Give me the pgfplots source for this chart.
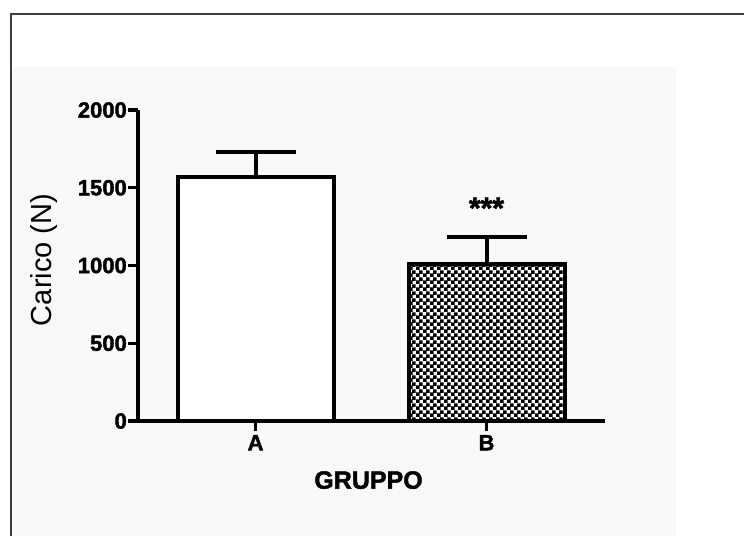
\documentclass[border=0pt]{standalone}
\usepackage{pgfplots}
\pgfplotsset{compat=1.18}
\usepackage{fontspec}
\setmainfont{Liberation Sans}
\newfontfamily\hv[FakeBold=1.8]{Liberation Sans Bold}
\usetikzlibrary{patterns}
\pgfdeclarepatternformonly{mycheck}{\pgfpointorigin}{\pgfqpoint{6.6pt}{6.6pt}}{\pgfqpoint{6.6pt}{6.6pt}}{%
  \pgfpathrectangle{\pgfpointorigin}{\pgfqpoint{3.8pt}{3.8pt}}%
  \pgfpathrectangle{\pgfqpoint{3.3pt}{3.3pt}}{\pgfqpoint{3.8pt}{3.8pt}}%
  \pgfusepath{fill}}
\definecolor{bgc}{RGB}{248,248,248}
\definecolor{framec}{RGB}{60,60,60}
\begin{document}
\begin{tikzpicture}
\useasboundingbox (0,0) rectangle (744pt,536pt);
\fill[white] (0,0) rectangle (744pt,536pt);
\fill[bgc] (11pt,0) rectangle (676pt,469pt);
\draw[line width=1.3pt, framec] (11pt,0) -- (11pt,522pt) -- (744pt,522pt);
\begin{axis}[
  at={(138pt,115pt)}, anchor=south west,
  scale only axis, width=467pt, height=311pt,
  xmin=-0.509, xmax=1.513, ymin=0, ymax=2000,
  axis x line=bottom, axis y line=left,
  axis line style={line width=4pt, -},
  xtick={0,1}, xticklabels={A,B},
  ytick={0,500,1000,1500,2000},
  scaled y ticks=false,
  /pgf/number format/1000 sep={},
  /pgf/number format/assume math mode=true,
  tick align=outside,
  major tick length=10pt,
  tick style={line width=3.5pt, black},
  tick label style={font=\fontsize{22}{24}\selectfont\hv},
  y tick label style={inner sep=1pt},
  x tick label style={inner sep=4pt},
  xlabel={GRUPPO},
  xlabel style={font=\fontsize{25}{26}\selectfont\hv, at={(axis description cs:0.4936,-0.19)}, anchor=center},
  ylabel={Carico (N)},
  ylabel style={font=\fontsize{29}{30}\selectfont, at={(axis description cs:-0.2013,0.5177)}, anchor=center},
  clip=false,
]
\addplot[ybar, bar width=156pt, bar shift=0pt, draw=black, fill=white, line width=4pt,
  error bars/.cd, y dir=plus, y explicit,
  error bar style={line width=4pt, black},
  error mark options={rotate=90, line width=4pt, mark size=40pt, black}]
  coordinates {(0,1567) +- (0,161)};
\addplot[ybar, bar width=156pt, bar shift=0pt, draw=black, fill=white, line width=4pt,
  postaction={pattern=mycheck},
  error bars/.cd, y dir=plus, y explicit,
  error bar style={line width=4pt, black},
  error mark options={rotate=90, line width=4pt, mark size=40pt, black}]
  coordinates {(1,1010) +- (0,175)};
\node[font=\fontsize{30}{30}\selectfont\hv, inner sep=0pt] at (axis cs:1,1370) {***};
\end{axis}
\end{tikzpicture}
\end{document}
